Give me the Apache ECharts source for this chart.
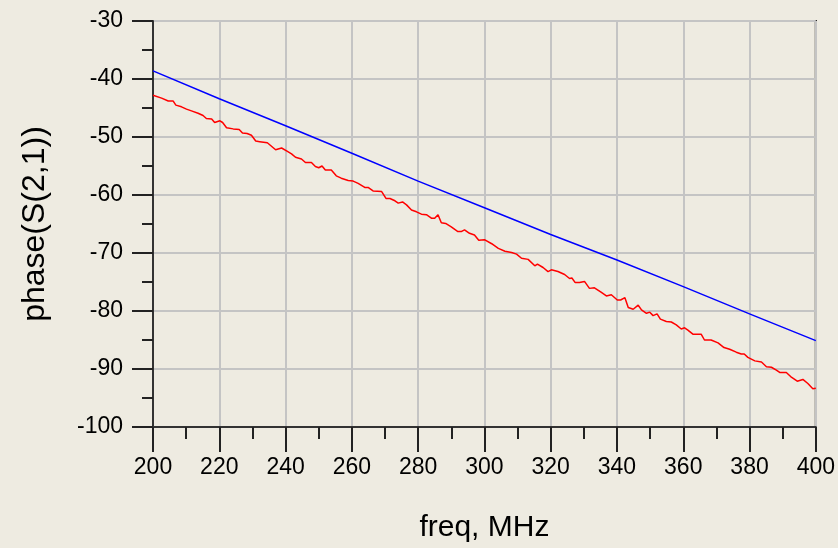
<!DOCTYPE html>
<html>
<head>
<meta charset="utf-8">
<script src="https://cdn.jsdelivr.net/npm/echarts@6/dist/echarts.min.js"></script>
<style>
  html, body { margin: 0; padding: 0; background: #eeebe1; }
  #chart { width: 838px; height: 548px; }
</style>
</head>
<body>
<div id="chart"></div>
<script>
// 频率 (MHz) 与相位 (deg)
const blueFreq = [200, 220, 240, 260, 280, 300, 320, 340, 360, 380, 400];
const bluePhase = [-38.6, -43.4, -48.05, -52.8, -57.6, -62.2, -66.8, -71.2, -75.8, -80.5, -85.1];

const redFreq = [
  200, 202.6, 204.6, 206.1, 206.9, 208.6, 210.1, 211.6, 213.6, 215.1,
  216.1, 217.7, 218.6, 220.2, 221, 222.2, 224.2, 226, 227, 228.4,
  229.7, 231, 232.2, 234.5, 237, 238.8, 240.3, 241.8, 243, 244.8,
  246, 247.8, 249, 250, 251, 252, 253.8, 255.3, 256.8, 258.9,
  260.4, 261.9, 263.9, 264.9, 266.4, 269, 270.3, 271.5, 273, 274,
  275.3, 276.5, 278, 279.5, 281, 282.5, 284, 285, 286, 287,
  288.3, 290, 292, 293, 294, 295.5, 297, 298.3, 300, 302.2,
  304.2, 306.2, 308.2, 309.7, 311.2, 313.2, 315.2, 316, 317.7, 319.2,
  320.2, 322.2, 324.2, 325.7, 326.4, 327.4, 328.7, 330.2, 331.7, 333.2,
  335.3, 336.8, 338.3, 340.1, 341.1, 342.4, 343.4, 344.9, 346.4, 347.4,
  348.9, 349.9, 350.9, 352.1, 353.1, 354.9, 356.4, 357.9, 359.4, 360.4,
  361.4, 362.9, 365.4, 366.4, 368.4, 370.5, 372.3, 374, 376, 377.5,
  378.4, 379.5, 381.6, 383.6, 385.1, 386.6, 388.1, 389.1, 391.1, 392.4,
  394.4, 396.1, 397.6, 399.1, 400
];
const redPhase = [
  -42.8, -43.3, -43.8, -43.8, -44.5, -44.8, -45.2, -45.5, -45.9, -46.3,
  -46.8, -46.9, -47.5, -47.2, -47.5, -48.4, -48.6, -48.7, -49.3, -49.4,
  -49.7, -50.7, -50.8, -51.0, -52.2, -51.9, -52.4, -52.9, -53.5, -53.8,
  -54.4, -54.4, -55.1, -55.3, -55.0, -55.7, -55.7, -56.7, -57.1, -57.5,
  -57.6, -58.0, -58.7, -58.7, -59.3, -59.4, -60.6, -60.6, -61.0, -61.4,
  -61.2, -61.7, -62.6, -62.9, -63.3, -63.4, -64.0, -64.0, -63.4, -64.8,
  -64.9, -65.5, -66.3, -66.3, -66.0, -66.6, -66.9, -67.8, -67.7, -68.4,
  -69.2, -69.7, -69.9, -70.2, -70.9, -71.1, -72.2, -71.9, -72.5, -73.2,
  -72.9, -73.2, -73.7, -74.4, -74.3, -75.1, -75.1, -74.9, -76.1, -76.0,
  -76.8, -77.4, -77.2, -78.1, -78.1, -77.7, -79.4, -79.7, -79.0, -79.8,
  -80.4, -80.2, -80.8, -80.5, -81.4, -81.8, -81.9, -82.4, -83.1, -82.9,
  -83.3, -84.0, -84.0, -85.0, -85.0, -85.5, -86.3, -86.6, -87.1, -87.4,
  -87.4, -88.0, -88.6, -88.8, -89.6, -89.7, -90.2, -90.6, -90.6, -91.3,
  -92.1, -91.8, -92.5, -93.4, -93.3
];

const font = 'Liberation Sans, Arial, sans-serif';
const zip = (xs, ys) => xs.map((x, i) => [x, ys[i]]);

let chart = echarts.init(document.getElementById('chart'));

let option = {
  animation: false,
  backgroundColor: '#eeebe1',
  textStyle: { fontFamily: font },
  grid: {
    left: 153, right: 20, top: 21, bottom: 121,
    show: true,
    borderColor: '#000',
    borderWidth: 2,
    backgroundColor: 'transparent'
  },
  xAxis: {
    type: 'value',
    min: 200, max: 400, interval: 20,
    name: 'freq, MHz',
    nameLocation: 'middle',
    nameGap: 86,
    nameTextStyle: { fontSize: 30, color: '#000', fontFamily: font },
    axisLine: { show: true, lineStyle: { color: '#333', width: 2 } },
    axisTick: { show: true, length: 25, lineStyle: { color: '#222', width: 2 } },
    minorTick: { show: true, splitNumber: 2, length: 12, lineStyle: { color: '#222', width: 2 } },
    splitLine: { show: true, lineStyle: { color: '#c4c4c4', width: 2 } },
    axisLabel: { fontSize: 23, color: '#000', margin: 29, fontFamily: font }
  },
  yAxis: {
    type: 'value',
    min: -100, max: -30, interval: 10,
    name: 'phase(S(2,1))',
    nameLocation: 'middle',
    nameGap: 102,
    nameTextStyle: { fontSize: 32, color: '#000', fontFamily: font },
    axisLine: { show: true, lineStyle: { color: '#333', width: 2 } },
    axisTick: { show: true, length: 21, lineStyle: { color: '#222', width: 2 } },
    minorTick: { show: true, splitNumber: 2, length: 11, lineStyle: { color: '#222', width: 2 } },
    splitLine: { show: true, lineStyle: { color: '#c4c4c4', width: 2 } },
    axisLabel: { fontSize: 23, color: '#000', margin: 30, fontFamily: font }
  },
  series: [
    {
      type: 'line',
      data: zip(blueFreq, bluePhase),
      showSymbol: false,
      lineStyle: { color: '#0000ff', width: 1.5 }
    },
    {
      type: 'line',
      data: zip(redFreq, redPhase),
      showSymbol: false,
      lineStyle: { color: '#ff0000', width: 1.5 }
    }
  ]
};

chart.setOption(option);
</script>
</body>
</html>
